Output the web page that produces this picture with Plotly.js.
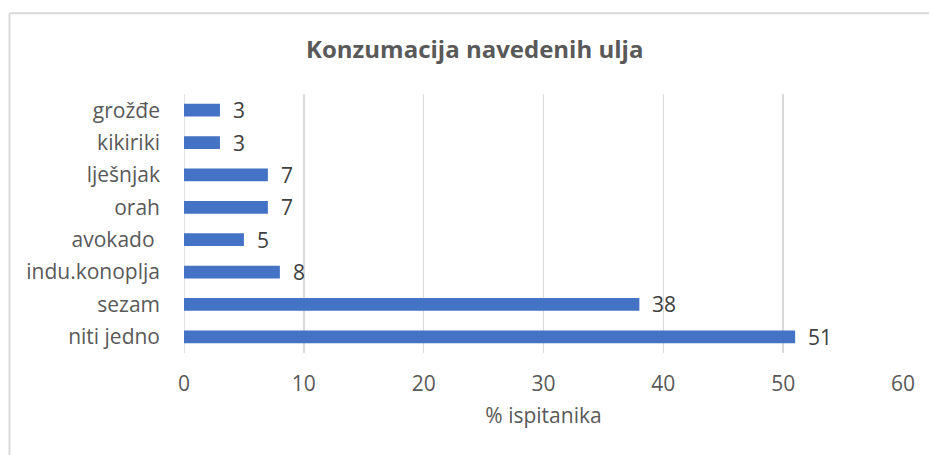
<!DOCTYPE html>
<html>
<head>
<meta charset="utf-8">
<script src="https://cdn.plot.ly/plotly-3.0.1.min.js"></script>
<style>html,body{margin:0;padding:0;background:#fff;}#chart{width:929px;height:455px;}</style>
</head>
<body>
<div id="chart"></div>
<script>
const categories = ["grožđe", "kikiriki", "lješnjak", "orah", "avokado\u00a0", "indu.konoplja", "sezam", "niti jedno"];
const values = [3, 3, 7, 7, 5, 8, 38, 51];
const xTicks = [0, 10, 20, 30, 40, 50, 60];

const FONT = "'Open Sans', sans-serif";

const trace = {
  type: "bar",
  orientation: "h",
  x: values,
  y: categories,
  marker: {color: "#4472C4"},
  width: 0.39,
  hoverinfo: "x+y"
};

const annotations = values.map((v, i) => ({
  x: v, y: categories[i], xref: "x", yref: "y",
  text: String(v), showarrow: false, xanchor: "left", yanchor: "middle",
  xshift: 11, font: {family: FONT, size: 21, color: "#404040"}
}));

const layout = {
  width: 929, height: 455,
  margin: {l: 184, r: 26, t: 94, b: 102},
  paper_bgcolor: "#fff", plot_bgcolor: "#fff",
  showlegend: false,
  title: {
    text: "<b>Konzumacija navedenih ulja</b>",
    font: {family: FONT, size: 24, color: "#595959"},
    x: 0.511, xref: "container", xanchor: "center",
    y: 1 - 50/455, yref: "container", yanchor: "middle"
  },
  xaxis: {
    range: [0, 60], tickvals: xTicks, ticktext: xTicks.map(String),
    showgrid: true, gridcolor: "#d9d9d9", gridwidth: 1.5,
    zeroline: false, showline: false, ticks: "",
    ticklabelstandoff: 16,
    tickfont: {family: FONT, size: 21, color: "#595959"},
    title: {text: "% ispitanika", font: {family: FONT, size: 21, color: "#595959"}, standoff: 12},
    fixedrange: true
  },
  yaxis: {
    autorange: "reversed", type: "category",
    showgrid: false, zeroline: false, showline: false, ticks: "",
    ticklabelstandoff: 23,
    tickfont: {family: FONT, size: 21, color: "#595959"},
    fixedrange: true
  },
  annotations: annotations,
  shapes: [
    {type: "line", xref: "paper", yref: "paper", x0: -0.2427, x1: -0.2427, y0: 1.3115, y1: -0.6, line: {color: "#d9d9d9", width: 2}},
    {type: "line", xref: "paper", yref: "paper", x0: -0.2427, x1: 1.2, y0: 1.3115, y1: 1.3115, line: {color: "#d9d9d9", width: 2}},
    {type: "line", xref: "x", yref: "paper", x0: 0, x1: 0, y0: 0, y1: 1, line: {color: "#d9d9d9", width: 1.5}, layer: "below"}
  ]
};

Plotly.newPlot("chart", [trace], layout, {displayModeBar: false, staticPlot: true});
</script>
</body>
</html>
